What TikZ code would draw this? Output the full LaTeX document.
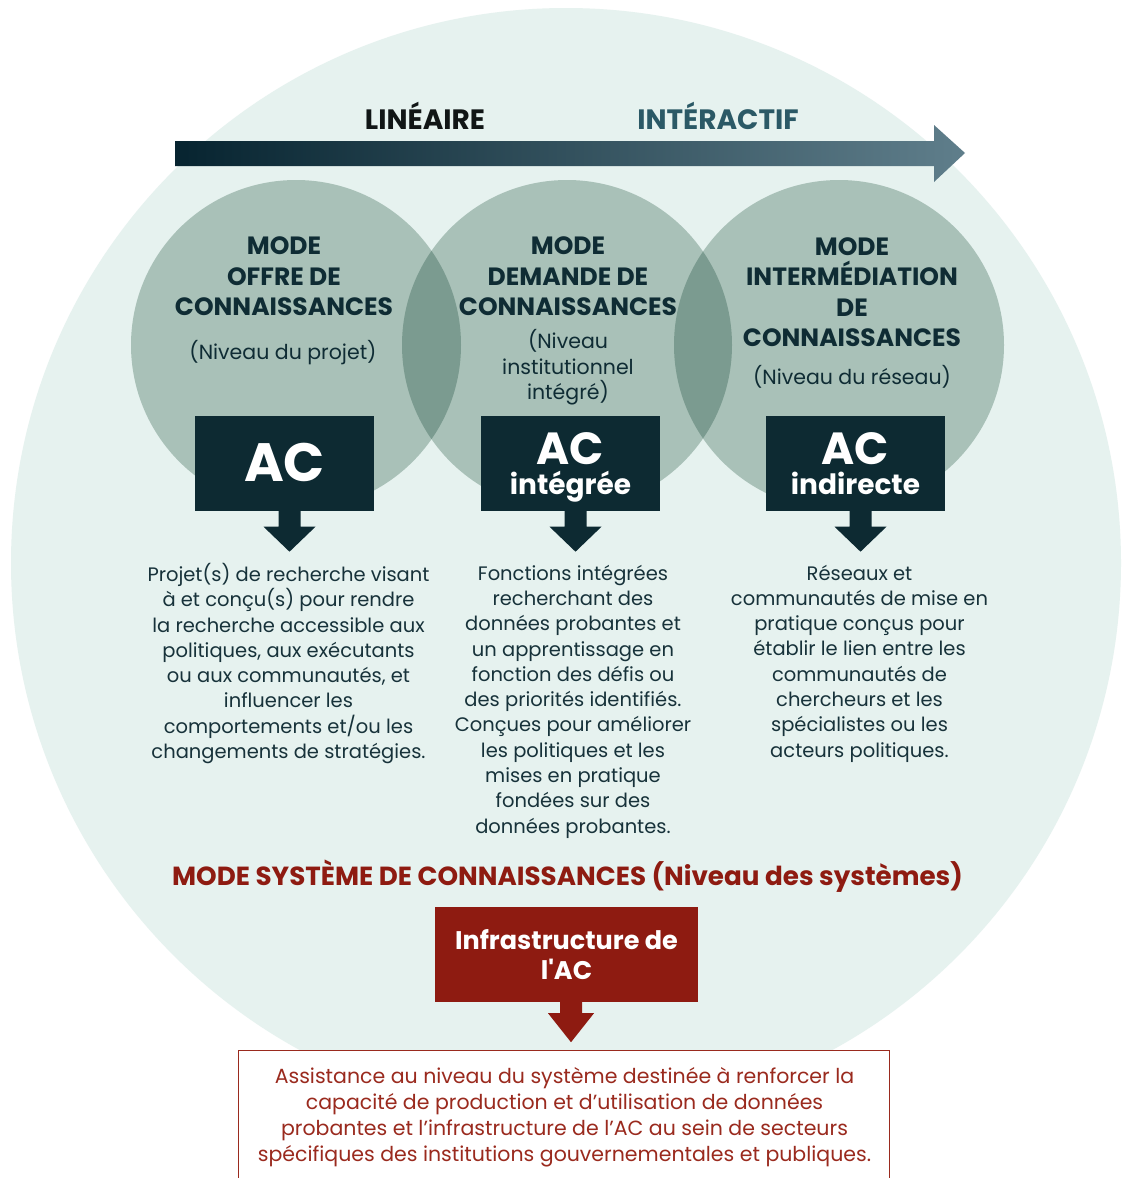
\documentclass[tikz,border=0pt]{standalone}
\usepackage{fontspec}
\usepackage{graphicx}
\setmainfont{Poppins}
\usetikzlibrary{calc}
\definecolor{bgc}{HTML}{E6F2EF}
\definecolor{modec}{HTML}{A9C1B8}
\definecolor{lensc}{HTML}{7B9B90}
\definecolor{darkbox}{HTML}{0D2A32}
\definecolor{arrL}{HTML}{072430}
\definecolor{arrR}{HTML}{5F7E8B}
\definecolor{lint}{HTML}{111616}
\definecolor{intt}{HTML}{2B5966}
\definecolor{headt}{HTML}{0F2C34}
\definecolor{bodyt}{HTML}{17323A}
\definecolor{redc}{HTML}{8E1B11}
\definecolor{redt}{HTML}{9A2A1E}
\newcommand\dnarrow[2]{\fill[#2] ($(#1.south)+(-6,-1)$) -- ++(0,17) -- ++(-15,0) -- ++(26,25) -- ++(26,-25) -- ++(-15,0) -- ++(0,-17) -- cycle;}
\tikzset{
  headtxt/.style={font=\bfseries\fontsize{25}{30.5}\selectfont, text=headt, align=center, inner sep=0pt},
  subtxt/.style={font=\fontsize{20.5}{25.5}\selectfont, text=headt, align=center, inner sep=0pt},
  bodytxt/.style={font=\fontsize{19.5}{25.3}\selectfont, text=bodyt, align=center, inner sep=0pt},
  acbox/.style={fill=darkbox, minimum width=179pt, minimum height=95pt, inner sep=0pt},
  modecirc/.style={circle, fill=modec, minimum size=330pt, inner sep=0pt},
  actop/.style={font=\bfseries\fontsize{45}{45}\selectfont, text=white, inner sep=0pt, text height=32pt, text depth=0pt, anchor=base},
  acsub/.style={font=\bfseries\fontsize{28}{28}\selectfont, text=white, inner sep=0pt, text height=19pt, text depth=6pt, anchor=base},
}
\begin{document}
\begin{tikzpicture}[x=1pt,y=-1pt]
\useasboundingbox (0,0) rectangle (1125,1178);
\fill[white] (0,0) rectangle (1125,1178);
\fill[bgc] (566,563) circle (555);
% arrow
\shade[left color=arrL, right color=arrR] (175,141) -- (934,141) -- (934,125) -- (965,153) -- (934,182) -- (934,166) -- (175,166) -- cycle;
\node[font=\bfseries\fontsize{28}{30}\selectfont, text=lint, inner sep=0pt] (lin) at (425,116) {LINÉAIRE};
\node[font=\bfseries\fontsize{28}{30}\selectfont, text=intt, inner sep=0pt] (int) at (718,116) {INTÉRACTIF};
% mode circles
\node[modecirc] (c1) at (296,345) {};
\node[modecirc] (c2) at (567,345) {};
\node[modecirc] (c3) at (839,345) {};
\begin{scope}
  \clip (296,345) circle (165);
  \fill[lensc] (567,345) circle (165);
\end{scope}
\begin{scope}
  \clip (567,345) circle (165);
  \fill[lensc] (839,345) circle (165);
\end{scope}
% headings
\node[headtxt] (h1) at (284,276.5) {MODE\\OFFRE DE\\CONNAISSANCES};
\node[subtxt] (s1) at (283,353) {(Niveau du projet)};
\node[headtxt] (h2) at (568,276.5) {MODE\\DEMANDE DE\\CONNAISSANCES};
\node[subtxt] (s2) at (568,367.5) {(Niveau\\institutionnel\\intégré)};
\node[headtxt] (h3) at (852,292) {MODE\\INTERMÉDIATION\\DE\\CONNAISSANCES};
\node[subtxt] (s3) at (852,377) {(Niveau du réseau)};
% AC boxes
\node[acbox] (b1) at (284.5,463) {};
\node[acbox] (b2) at (570.5,463) {};
\node[acbox] (b3) at (855.5,463) {};
\node[font=\bfseries\fontsize{54}{54}\selectfont, text=white, inner sep=0pt] (t1) at (284.5,462) {AC};
\node[actop] (t2a) at (570.5,464) {AC};
\node[acsub] (t2b) at (570.5,494) {intégrée};
\node[actop] (t3a) at (855.5,464) {AC};
\node[acsub] (t3b) at (855.5,494) {indirecte};
\dnarrow{b1}{darkbox}
\dnarrow{b2}{darkbox}
\dnarrow{b3}{darkbox}
% descriptions
\node[bodytxt] (d1) at (288.5,663.5) {Projet(s) de recherche visant\\à et conçu(s) pour rendre\\la recherche accessible aux\\politiques, aux exécutants\\ou aux communautés, et\\influencer les\\comportements et/ou les\\changements de stratégies.};
\node[bodytxt] (d2) at (573,701.5) {Fonctions intégrées\\recherchant des\\données probantes et\\un apprentissage en\\fonction des défis ou\\des priorités identifiés.\\Conçues pour améliorer\\les politiques et les\\mises en pratique\\fondées sur des\\données probantes.};
\node[bodytxt] (d3) at (859.5,663.5) {Réseaux et\\communautés de mise en\\pratique conçus pour\\établir le lien entre les\\communautés de\\chercheurs et les\\spécialistes ou les\\acteurs politiques.};
% system mode
\node[font=\bfseries\fontsize{26.2}{30}\selectfont, text=redc, inner sep=0pt] (sys) at (567.5,876) {MODE SYSTÈME DE CONNAISSANCES (Niveau des systèmes)};
\node[fill=redc, minimum width=263pt, minimum height=95pt, inner sep=0pt] (rb) at (566.5,954.5) {};
\node[font=\bfseries\fontsize{25.5}{30}\selectfont, text=white, align=center, inner sep=0pt] (rbt) at (566.5,955) {Infrastructure de\\l\textquotesingle AC};
\fill[redc] ($(rb.south)+(-6.5,-1)$) -- ++(0,12) -- ++(-12,0) -- ++(23,29) -- ++(23,-29) -- ++(-12,0) -- ++(0,-12) -- cycle;
% bottom box
\fill[white] (238,1050) rectangle (889,1190);
\draw[redt, line width=1pt] (238,1190) -- (238,1050) -- (889,1050) -- (889,1190);
\node[font=\fontsize{20.5}{26}\selectfont, text=redt, align=center, inner sep=0pt] (bt) at (564.5,1117) {Assistance au niveau du système destinée à renforcer la\\capacité de production et d’utilisation de données\\probantes et l’infrastructure de l’AC au sein de secteurs\\spécifiques des institutions gouvernementales et publiques.};
\end{tikzpicture}
\end{document}
